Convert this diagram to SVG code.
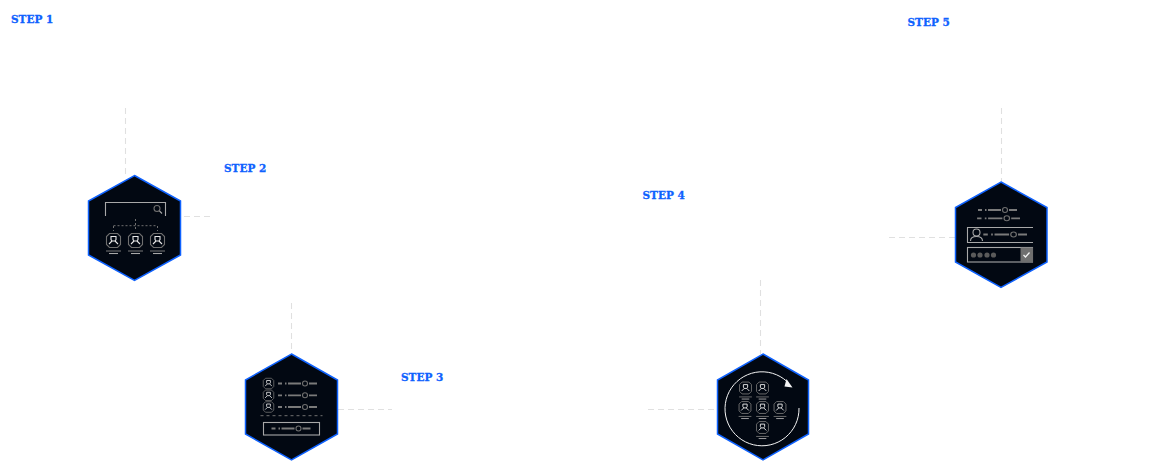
<svg xmlns="http://www.w3.org/2000/svg" width="1155" height="462" viewBox="0 0 1155 462">
<style>
.hex{fill:#020812;stroke:#0f62fe;stroke-width:1.5}
.lbl{font-family:"DejaVu Serif",serif;font-weight:700;font-size:10.5px;fill:#0f62fe;stroke:#0f62fe;stroke-width:.3}
.dash{fill:none;stroke:#e0e0e0;stroke-width:1.1;stroke-dasharray:6 4}
.ln{fill:none;stroke:#a8a8a8;stroke-width:1.1}
.ln2{fill:none;stroke:#6f6f6f;stroke-width:1.1}
.wh{fill:none;stroke:#e8e8e8;stroke-width:1.1}
.bar{fill:none;stroke:#7a7a7a;stroke-width:1.8}
</style>
<defs>
<g id="person">
<path class="ln2" d="M-4-7H4L7-4V4L4 7H-4L-7 4V-4Z"/>
<path class="wh" d="M-2.500-1V-4H2.500V-1L1.500 0.500H-1.500ZM-1.500 0.500L-4.500 3.500M1.500 0.500L4.500 3.500"/>
</g>
<g id="personU">
<use href="#person"/>
<path class="ln2" d="M-7.500 10.500H7.500"/>
<path class="ln" d="M-4.500 13H4.500"/>
</g>
<g id="row">
<path class="bar" d="M-14 0H-10M-7-0H-5.500M-4 0H9M17 0H25"/>
<circle class="ln2" cx="13" cy="0" r="2.500"/>
</g>
</defs>
<g id="connectors">
<path class="dash" d="M125.500 108V176M184 216.500H212"/>
<path class="dash" d="M291.500 303V354M338 409.500H392"/>
<path class="dash" d="M760.500 280V354M648 409.500H717"/>
<path class="dash" d="M1001.500 108V182M889 237.500H955"/>
</g>
<g id="step1"><text class="lbl" x="11" y="23">STEP 1</text></g>
<g id="step5"><text class="lbl" x="907.500" y="26">STEP 5</text></g>
<g id="step2"><text class="lbl" x="224" y="172">STEP 2</text></g>
<g id="step4"><text class="lbl" x="642.500" y="199">STEP 4</text></g>
<g id="step3"><text class="lbl" x="401" y="381">STEP 3</text></g>
<g id="node1">
<path class="hex" d="M134.500 175.500L180.500 201V255L134.500 280.500L88.500 255V201Z"/>
<path class="ln" d="M105.500 216V202.500H165.500V216"/>
<circle class="ln2" cx="157" cy="208.500" r="3"/>
<path class="ln" d="M159.500 211L162 213.500"/>
<path d="M113.500 226V231M135.500 219V231M157.500 226V231M113.500 225.700H157.500" fill="none" stroke="#6f6f6f" stroke-dasharray="2 2"/>
<use href="#personU" x="113.500" y="240.500"/>
<use href="#personU" x="135.500" y="240.500"/>
<use href="#personU" x="157.500" y="240.500"/>
</g>
<g id="node2">
<path class="hex" d="M291.500 354L337.500 380V434L291.500 460L245.500 434V380Z"/>
<g transform="translate(268.500 383.500) scale(.75)"><use href="#person"/></g>
<g transform="translate(268.500 395.300) scale(.75)"><use href="#person"/></g>
<g transform="translate(268.500 407) scale(.75)"><use href="#person"/></g>
<use href="#row" x="292" y="383.500"/>
<use href="#row" x="292" y="395.300"/>
<use href="#row" x="292" y="407"/>
<path d="M260.500 415.700H322.500" fill="none" stroke="#6f6f6f" stroke-dasharray="3 3"/>
<rect class="ln" x="263.500" y="422.500" width="56" height="12.500"/>
<use href="#row" x="285.500" y="428.500"/>
</g>
<g id="node3">
<path class="hex" d="M763 354L808.500 380V434L763 460L717.500 434V380Z"/>
<path d="M787 381.500A37 37 0 1 0 799 408" fill="none" stroke="#f4f4f4" stroke-width="1"/>
<path d="M786.500 379L792.500 387.500L784.500 386.500Z" fill="#f4f4f4"/>
<g transform="translate(745.500 388) scale(.85)"><use href="#personU"/></g>
<g transform="translate(762.500 388) scale(.85)"><use href="#personU"/></g>
<g transform="translate(745 407.500) scale(.85)"><use href="#personU"/></g>
<g transform="translate(762.500 407.500) scale(.85)"><use href="#personU"/></g>
<g transform="translate(780 407.500) scale(.85)"><use href="#personU"/></g>
<g transform="translate(762.500 427.500) scale(.85)"><use href="#personU"/></g>
</g>
<g id="node4">
<path class="hex" d="M1001 182L1047 207.500V262L1001 287.500L955.500 262V207.500Z"/>
<use href="#row" x="992" y="210"/>
<g transform="translate(992.500 218.300) scale(1.100 1)"><use href="#row"/></g>
<path class="ln" d="M1033 227.500H967.500V242.500H1033"/>
<circle class="ln" cx="976.500" cy="232.500" r="3.500"/>
<path class="ln" d="M970.500 241C970.500 237.500 973 236.500 976.500 236.500C980 236.500 982.500 237.500 982.500 241"/>
<g transform="translate(999 234.500) scale(1.120 1)"><use href="#row"/></g>
<rect class="ln" x="967.500" y="247.500" width="65" height="14.500"/>
<rect x="1020.500" y="247.500" width="12.500" height="15" fill="#6f6f6f"/>
<path d="M1023.500 255L1025.500 257L1029.500 252.500" fill="none" stroke="#f4f4f4" stroke-width="1.300"/>
<g fill="#5a5a5a"><circle cx="973.500" cy="255" r="2.600"/><circle cx="980" cy="255" r="2.600"/><circle cx="987" cy="255" r="2.600"/><circle cx="993.500" cy="255" r="2.600"/></g>
</g>
</svg>
